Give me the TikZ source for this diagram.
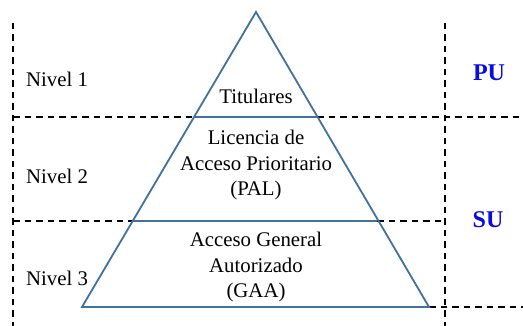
\documentclass[tikz,border=0pt]{standalone}
\usepackage{fontspec}
\setmainfont{Liberation Serif}
\usepackage{xcolor}
\definecolor{pirablau}{RGB}{65,113,156}
\definecolor{etikblau}{RGB}{10,10,230}

\begin{document}
\begin{tikzpicture}[x=1pt, y=-1pt,
	trenner/.style={black, line width=1.7pt, dash pattern=on 6.5pt off 5pt},
	stufe/.style={pirablau, line width=1.8pt},
	texto/.style={align=center, font=\fontsize{20.8}{25.5}\selectfont, inner sep=0pt},
	ebene/.style={font=\fontsize{20.8}{25.5}\selectfont, inner sep=0pt},
	nutzer/.style={etikblau, font=\fontsize{24}{28}\selectfont\bfseries, inner sep=0pt}]
	\useasboundingbox (0,0) rectangle (523,326);
	% trennlinien
	\draw[trenner] (13,23) -- (13,326);
	\draw[trenner] (445,23) -- (445,326);
	\draw[trenner] (13,117) -- (195,117);
	\draw[trenner] (317,117) -- (523,117);
	\draw[trenner] (13,221) -- (133,221);
	\draw[trenner] (377,221) -- (445,221);
	\draw[trenner] (429,307) -- (523,307);
	% pyramide
	\draw[stufe, line join=miter] (256,12) -- (429,307) -- (82,307) -- cycle;
	\draw[stufe] (195,117) -- (317,117);
	\draw[stufe] (133,221) -- (377,221);
	% beschriftung
	\node[texto] (titulares) at (256,96) {Titulares};
	\node[texto] (pal) at (256,165) {Licencia de\\Acceso Prioritario\\(PAL)};
	\node[texto] (gaa) at (256,267) {Acceso General\\Autorizado\\(GAA)};
	\node[ebene] (nivel1) at (57,79) {Nivel 1};
	\node[ebene] (nivel2) at (57,176) {Nivel 2};
	\node[ebene] (nivel3) at (57,278) {Nivel 3};
	\node[nutzer] (pu) at (489,73) {PU};
	\node[nutzer] (su) at (488,220) {SU};
\end{tikzpicture}
\end{document}
